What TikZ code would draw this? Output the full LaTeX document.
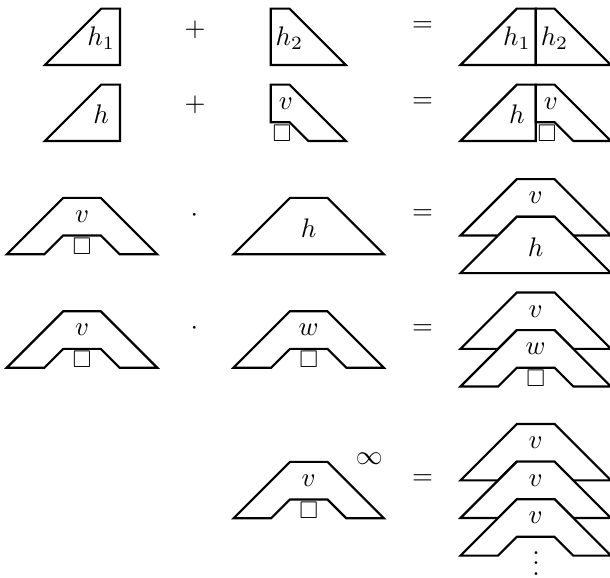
\documentclass[tikz,border=0pt]{standalone}
\usepackage{amssymb}
\tikzset{
  shp/.style={draw=black, fill=white, line width=0.8pt},
  lbl/.style={inner sep=0pt},
  op/.style={inner sep=0pt},
  boxsym/.style={inner sep=0pt, font=\fontsize{9}{10}\selectfont},
  pics/halfL/.style={code={
    \begin{scope}[x=7pt,y=7pt]
      \draw[shp] (-4,0) -- (-1,3) -- (0,3) -- (0,0) -- cycle;
      \node[lbl] (-lab) at (-1,1.45) {$#1$};
    \end{scope}}},
  pics/halfR/.style={code={
    \begin{scope}[x=7pt,y=7pt]
      \draw[shp] (0,0) -- (0,3) -- (1,3) -- (4,0) -- cycle;
      \node[lbl] (-lab) at (1,1.45) {$#1$};
    \end{scope}}},
  pics/halfRV/.style={code={
    \begin{scope}[x=7pt,y=7pt]
      \draw[shp] (0,1) -- (0,3) -- (1,3) -- (4,0) -- (2,0) -- (1,1) -- cycle;
      \node[lbl] (-lab) at (0.8,2) {$#1$};
      \node[boxsym] (-box) at (0.6,0.42) {$\square$};
    \end{scope}}},
  pics/trapH/.style={code={
    \begin{scope}[x=7pt,y=7pt]
      \draw[shp] (-4,0) -- (-1,3) -- (1,3) -- (4,0) -- cycle;
      \node[lbl] (-lab) at (0,1.4) {$#1$};
    \end{scope}}},
  pics/trapV/.style={code={
    \begin{scope}[x=7pt,y=7pt]
      \draw[shp] (-4,0) -- (-1,3) -- (1,3) -- (4,0) -- (2,0) -- (1,1) -- (-1,1) -- (-2,0) -- cycle;
      \node[lbl] (-lab) at (0,2) {$#1$};
    \end{scope}}},
  pics/trapVb/.style={code={
    \begin{scope}[x=7pt,y=7pt]
      \draw[shp] (-4,0) -- (-1,3) -- (1,3) -- (4,0) -- (2,0) -- (1,1) -- (-1,1) -- (-2,0) -- cycle;
      \node[lbl] (-lab) at (0,2) {$#1$};
      \node[boxsym] (-box) at (0,0.42) {$\square$};
    \end{scope}}},
}
\begin{document}
\begin{tikzpicture}[x=0.3723pt,y=-0.3723pt]
\useasboundingbox (0,0) rectangle (610,578);
% row 1
\pic (a1) at (120,65) {halfL={h_1}};
\node[op] (p1) at (195,29.3) {$+$};
\pic (b1) at (270.7,65) {halfR={h_2}};
\node[op] (e1) at (422.5,26.7) {$=$};
\pic (c1l) at (535.7,65) {halfL={h_1}};
\pic (c1r) at (535.7,65) {halfR={h_2}};
% row 2
\pic (a2) at (120,141) {halfL={h}};
\node[op] (p2) at (195,104.3) {$+$};
\pic (b2) at (270.7,141) {halfRV={v}};
\node[op] (e2) at (422.5,102.5) {$=$};
\pic (c2l) at (535.7,141) {halfL={h}};
\pic (c2r) at (535.7,141) {halfRV={v}};
% row 3
\pic (a3) at (82,254.3) {trapVb={v}};
\node[op] (d3) at (194.3,215.7) {$\cdot$};
\pic (b3) at (308.7,254.3) {trapH={h}};
\node[op] (e3) at (422.5,215) {$=$};
\pic (c3a) at (535.7,235.5) {trapV={v}};
\pic (c3b) at (535.7,273.1) {trapH={h}};
% row 4
\pic (a4) at (82,367.7) {trapVb={v}};
\node[op] (d4) at (194.3,329) {$\cdot$};
\pic (b4) at (308.7,367.7) {trapVb={w}};
\node[op] (e4) at (422.5,329.2) {$=$};
\pic (c4a) at (535.7,348.9) {trapV={v}};
\pic (c4b) at (535.7,386.5) {trapVb={w}};
% row 5
\pic (b5) at (308.7,518.3) {trapVb={v}};
\node[op] (inf) at (369.3,458.3) {$\infty$};
\node[op] (e5) at (422.5,479.5) {$=$};
\pic (c5a) at (535.7,480.4) {trapV={v}};
\pic (c5b) at (535.7,518) {trapV={v}};
\pic (c5c) at (535.7,555.6) {trapV={v}};
\node[inner sep=0pt, anchor=base] (dots) at (536,575.5) {$\vdots$};
\end{tikzpicture}
\end{document}
